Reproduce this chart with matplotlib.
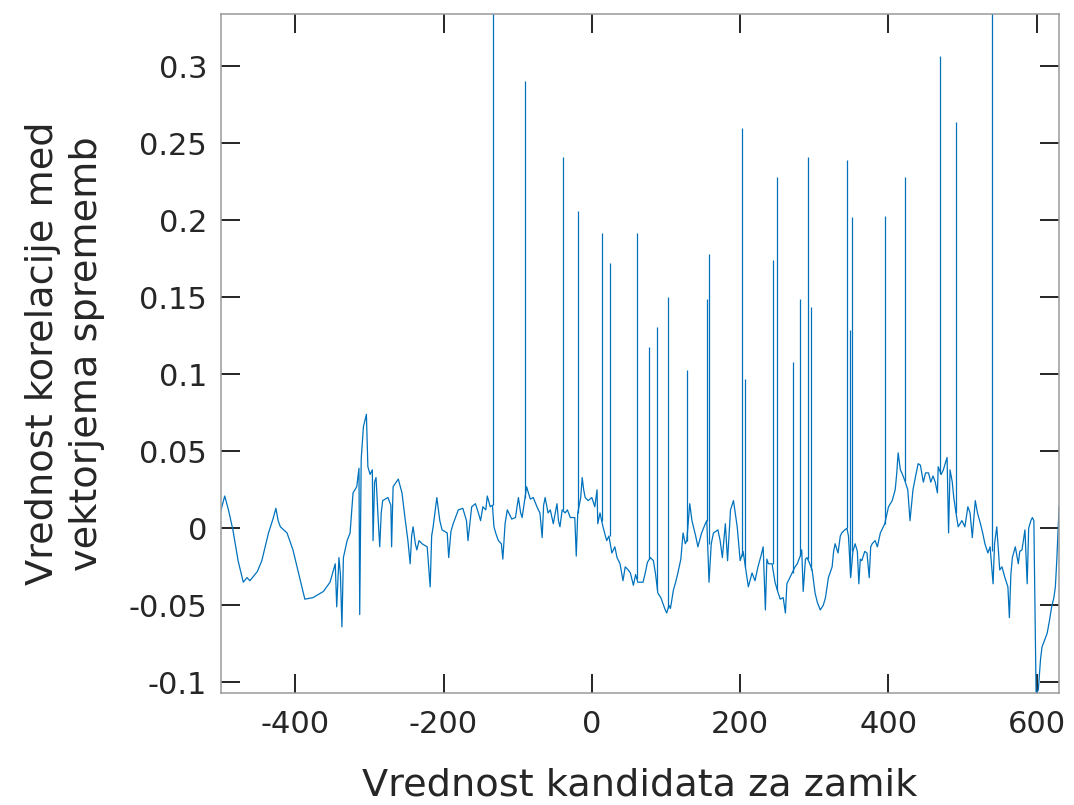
#!/usr/bin/python3
'''
Korelacija vektorjev sprememb v odvisnosti od kandidata za zamik
'''
import matplotlib
matplotlib.use('Agg')
import matplotlib.pyplot as plt

# osnovni potek korelacije (zamik, vrednost)
lag = [-500, -495, -490, -484, -477, -470, -465, -461, -451, -445, -436, -430,
       -426, -423, -420, -411, -403, -393, -387, -376, -362, -353, -346, -344,
       -341, -339, -337, -335, -330, -326, -322, -317, -314, -313, -311, -308,
       -304, -302, -299, -296, -295, -293, -291, -288, -286, -284, -282, -275,
       -271, -270, -268, -261, -256, -252, -248, -245, -243, -241, -238, -236,
       -233, -229, -222, -218, -216, -214, -209, -205, -202, -195, -193, -190,
       -187, -180, -174, -169, -167, -162, -157, -153, -150, -147, -143, -141,
       -137, -134, -132, -129, -126, -122, -120, -117, -114, -108, -103, -99,
       -96, -94, -88, -83, -79, -74, -70, -67, -65, -63, -59, -56,
       -52, -47, -45, -43, -40, -36, -33, -29, -23, -21, -19, -15,
       -13, -11, -9, -5, 0, 4, 7, 8, 11, 15, 20, 23,
       27, 31, 34, 38, 42, 45, 49, 52, 56, 59, 62, 66,
       69, 72, 75, 79, 83, 86, 89, 93, 96, 99, 101, 104,
       106, 110, 113, 116, 120, 123, 126, 128, 132, 135, 137, 140,
       143, 148, 153, 155, 158, 161, 164, 170, 173, 176, 180, 183,
       187, 191, 196, 200, 204, 207, 211, 216, 220, 224, 228, 231,
       234, 236, 238, 243, 247, 250, 254, 258, 261, 263, 267, 270,
       274, 277, 281, 283, 285, 288, 290, 293, 297, 301, 304, 308,
       312, 315, 319, 324, 326, 328, 332, 335, 337, 341, 344, 346,
       349, 352, 355, 358, 360, 362, 364, 368, 371, 374, 376, 378,
       382, 385, 389, 395, 400, 405, 409, 411, 413, 416, 418, 422,
       426, 429, 433, 437, 440, 443, 447, 450, 454, 457, 460, 463,
       466, 467, 471, 474, 477, 479, 481, 483, 486, 488, 491, 494,
       499, 503, 507, 510, 513, 517, 520, 524, 527, 530, 534, 537,
       541, 543, 546, 550, 553, 557, 561, 563, 565, 567, 571, 575,
       577, 580, 584, 587, 589, 592, 594, 596, 599, 602, 605, 607,
       611, 614, 617, 620, 623, 625, 627, 630]
corr = [0.012, 0.021, 0.012, -0.001, -0.021, -0.035, -0.032, -0.034, -0.028, -0.021, -0.003, 0.006,
        0.013, 0.005, 0.001, -0.003, -0.014, -0.034, -0.046, -0.045, -0.041, -0.035, -0.023, -0.051,
        -0.019, -0.030, -0.064, -0.019, -0.008, -0.003, 0.023, 0.027, 0.039, -0.056, 0.045, 0.066,
        0.074, 0.040, 0.035, 0.038, -0.008, 0.030, 0.033, 0.005, -0.012, 0.010, 0.018, 0.020,
        0.015, -0.012, 0.027, 0.032, 0.023, 0.007, -0.008, -0.023, -0.005, 0.001, -0.010, -0.014,
        -0.008, -0.010, -0.012, -0.038, -0.005, 0.001, 0.020, 0.005, -0.001, -0.003, -0.019, -0.002,
        0.003, 0.012, 0.013, 0.005, -0.008, 0.014, 0.016, 0.010, 0.005, 0.014, 0.012, 0.021,
        0.014, 0.015, 0.001, -0.004, -0.008, -0.010, -0.020, 0.003, 0.012, 0.006, 0.007, 0.020,
        0.010, 0.007, 0.027, 0.019, 0.020, 0.014, 0.010, -0.006, 0.015, 0.020, 0.010, 0.012,
        0.003, 0.016, 0.005, 0.001, 0.012, 0.010, 0.012, 0.007, 0.007, -0.018, 0.010, 0.020,
        0.033, 0.025, 0.020, 0.018, 0.020, 0.014, 0.025, 0.003, 0.010, 0.001, -0.008, -0.005,
        -0.016, -0.012, -0.019, -0.023, -0.034, -0.025, -0.027, -0.029, -0.037, -0.030, -0.035, -0.035,
        -0.035, -0.029, -0.022, -0.019, -0.021, -0.030, -0.042, -0.045, -0.049, -0.053, -0.055, -0.050,
        -0.052, -0.040, -0.035, -0.029, -0.020, -0.003, -0.010, -0.008, 0.016, 0.005, 0.001, -0.005,
        -0.012, -0.003, 0.003, 0.005, -0.035, -0.010, -0.003, -0.001, -0.008, -0.019, 0.003, -0.021,
        0.012, 0.018, 0.001, -0.021, -0.015, -0.025, -0.038, -0.029, -0.034, -0.025, -0.018, -0.012,
        -0.053, -0.020, -0.023, -0.023, -0.035, -0.040, -0.046, -0.045, -0.055, -0.036, -0.032, -0.029,
        -0.025, -0.023, -0.018, -0.014, -0.041, -0.020, -0.019, -0.022, -0.027, -0.042, -0.048, -0.053,
        -0.050, -0.045, -0.032, -0.025, -0.015, -0.010, -0.016, -0.005, -0.003, -0.001, 0.000, -0.005,
        -0.032, -0.015, -0.010, -0.015, -0.036, -0.020, -0.021, -0.015, -0.016, -0.032, -0.012, -0.010,
        -0.008, -0.012, -0.003, 0.003, 0.014, 0.018, 0.025, 0.035, 0.049, 0.038, 0.036, 0.031,
        0.025, 0.005, 0.025, 0.035, 0.042, 0.041, 0.030, 0.036, 0.036, 0.030, 0.034, 0.030,
        0.023, 0.040, 0.035, 0.038, 0.043, 0.046, -0.003, 0.038, 0.030, 0.020, 0.010, 0.001,
        0.005, 0.001, 0.014, 0.010, -0.006, 0.018, 0.010, 0.003, -0.003, -0.010, -0.016, -0.012,
        -0.036, -0.010, 0.001, -0.027, -0.025, -0.032, -0.038, -0.058, -0.030, -0.019, -0.012, -0.023,
        -0.015, -0.014, -0.001, -0.036, 0.000, 0.005, 0.007, 0.005, -0.107, -0.105, -0.085, -0.077,
        -0.072, -0.068, -0.060, -0.051, -0.045, -0.038, -0.020, 0.014]

# ozki vrhovi (zamik, vrh, izhodisce)
peak_lag = [-133, -90, -39, -18.5, 14, 25, 61, 77, 88, 103, 128, 155, 158, 203, 207,
            244, 250, 271, 281, 291, 295, 344, 348, 351, 395, 422, 470, 491, 540]
peak_top = [0.40, 0.2905, 0.241, 0.206, 0.1915, 0.172, 0.192, 0.1175, 0.1305, 0.150,
            0.103, 0.149, 0.178, 0.260, 0.097, 0.174, 0.228, 0.108, 0.149, 0.241,
            0.1437, 0.239, 0.1286, 0.202, 0.203, 0.228, 0.307, 0.264, 0.40]
peak_base = [0.015, 0.020, 0.012, 0.010, 0.005, -0.005, -0.033, -0.020, -0.040, -0.052,
             -0.008, 0.005, -0.010, -0.018, -0.025, -0.023, -0.040, -0.029, -0.018, -0.020,
             -0.027, 0.000, -0.030, -0.015, 0.003, 0.031, 0.035, 0.010, -0.015]

xticks = [-400, -200, 0, 200, 400, 600]
yticks = [-0.1, -0.05, 0, 0.05, 0.1, 0.15, 0.2, 0.25, 0.3]
ytick_labels = ['-0.1', '-0.05', '0', '0.05', '0.1', '0.15', '0.2', '0.25', '0.3']

plt.rcParams['font.family'] = 'DejaVu Sans'
plt.rcParams['axes.unicode_minus'] = False

fig = plt.figure(figsize=(10.74, 8.05), dpi=100)
ax = fig.add_axes([0.2058, 0.139, 0.7803, 0.8436])

line_color = '#0072BD'
ax.plot(lag, corr, color=line_color, linewidth=0.9)
ax.vlines(peak_lag, peak_base, peak_top, color=line_color, linewidth=0.9)

ax.set_xlim(-500, 630)
ax.set_ylim(-0.107, 0.334)
ax.set_xticks(xticks)
ax.set_xticklabels([str(t) for t in xticks])
ax.set_yticks(yticks)
ax.set_yticklabels(ytick_labels)

for s in ax.spines.values():
    s.set_color('#9a9a9a')
    s.set_linewidth(1.1)
ax.tick_params(direction='in', length=14, width=1.2, color='k',
               top=True, right=True, labelsize=22, labelcolor='#262626')
ax.tick_params(axis='x', pad=12)
ax.tick_params(axis='y', pad=10)

ax.set_xlabel('Vrednost kandidata za zamik', fontsize=27.5, color='#262626')
ax.set_ylabel('Vrednost korelacije med\nvektorjema sprememb', fontsize=27.5,
              color='#262626', linespacing=1.3)
ax.xaxis.set_label_coords(0.5, -0.11)
ax.yaxis.set_label_coords(-0.138, 0.5)

fig.savefig('out.png', dpi=100)
